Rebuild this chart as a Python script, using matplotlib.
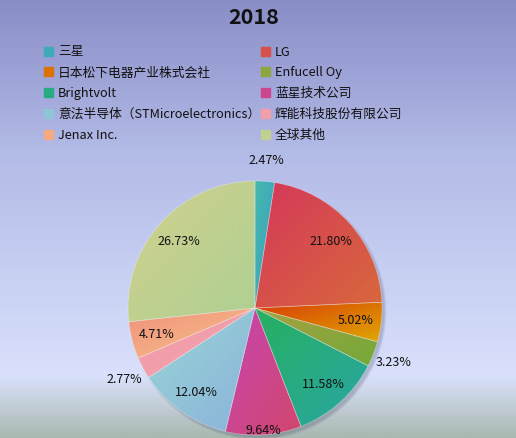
import numpy as np
import matplotlib
matplotlib.use('Agg')
import matplotlib.pyplot as plt
from matplotlib.colors import to_rgb, LinearSegmentedColormap
from matplotlib.patches import Rectangle, Circle

plt.rcParams['font.family'] = ['Noto Sans CJK SC', 'DejaVu Sans']

title = '2018'
companies = ['三星', 'LG', '日本松下电器产业株式会社', 'Enfucell Oy', 'Brightvolt',
             '蓝星技术公司', '意法半导体（STMicroelectronics）', '辉能科技股份有限公司',
             'Jenax Inc.', '全球其他']
shares = [2.47, 21.80, 5.02, 3.23, 11.58, 9.64, 12.04, 2.77, 4.71, 26.73]

# gradient colours for each slice (start -> end)
color_from = ['#46b9ae', '#d5385a', '#d83c05', '#a8a040', '#26b060',
              '#c646b2', '#98d6d4', '#f29aa6', '#f0907c', '#d2d08e']
color_to = ['#3a9cc2', '#d8683c', '#e0a800', '#72aa3a', '#2aa6a4',
            '#d2466c', '#8cb2dc', '#f2a4b0', '#f8c48a', '#aed092']

W, H = 516, 439
fig = plt.figure(figsize=(W / 100, H / 100), dpi=100)

# background with vertical gradient, legend and title (pixel coords)
bg = fig.add_axes([0, 0, 1, 1])
bg.set_xlim(0, W)
bg.set_ylim(H, 0)
bg.axis('off')
stops = [(0.0, '#898dc6'), (0.35, '#b3bbe7'), (0.86, '#d9e1fc'),
         (0.90, '#ccd6e6'), (1.0, '#a9b8b0')]
bg_cmap = LinearSegmentedColormap.from_list('bg', stops)
bg.imshow(np.linspace(0, 1, 256).reshape(-1, 1), cmap=bg_cmap,
          extent=(0, W, H, 0), aspect='auto', zorder=0)

bg.text(254, 17, title, fontsize=15.5, fontweight='bold', ha='center',
        va='center', color='#111111')

mid_colors = [tuple((np.array(to_rgb(a)) + np.array(to_rgb(b))) / 2)
              for a, b in zip(color_from, color_to)]

for i, name in enumerate(companies):
    col, row = i % 2, i // 2
    x0 = 44 if col == 0 else 261
    y0 = 52 + row * 20.8
    bg.add_patch(Rectangle((x0, y0 - 4.5), 9, 9, color=mid_colors[i], zorder=2))
    bg.text(x0 + 14, y0, name, fontsize=9.2, ha='left', va='center',
            color='#111111', zorder=3)

# pie
ax = fig.add_axes([128 / W, 3 / H, 254 / W, 254 / H])

# soft shadow, lower right
for k in range(4):
    ax.add_patch(Circle((0.022, -0.024), 0.995 + k * 0.006, color='#404060',
                        alpha=0.07, zorder=0, clip_on=False, lw=0))

wedges, texts, autotexts = ax.pie(
    shares, startangle=90, counterclock=False, autopct='%.2f%%',
    colors=mid_colors,
    wedgeprops=dict(edgecolor=(1, 1, 1, 0.35), linewidth=0.5),
    textprops=dict(fontsize=9, color='#111111'))

n = 64
u, v = np.meshgrid(np.linspace(0, 1, n), np.linspace(0, 1, n))
t = ((u + (1 - v)) / 2)[..., None]
for w, c0, c1 in zip(wedges, color_from, color_to):
    th = np.radians(np.linspace(w.theta1, w.theta2, 60))
    xs = np.concatenate([[0], np.cos(th)])
    ys = np.concatenate([[0], np.sin(th)])
    img = (1 - t) * np.array(to_rgb(c0)) + t * np.array(to_rgb(c1))
    im = ax.imshow(img, extent=(xs.min(), xs.max(), ys.min(), ys.max()),
                   origin='lower', zorder=1, interpolation='bilinear')
    im.set_clip_path(w)
    w.set_facecolor('none')
    w.set_zorder(2)

for i, (w, txt) in enumerate(zip(wedges, autotexts)):
    ang = np.radians((w.theta1 + w.theta2) / 2)
    if shares[i] < 3.5:
        r = 1.17
    elif i == 5:
        r = 0.96
    else:
        r = 0.8
    txt.set_position((r * np.cos(ang), r * np.sin(ang)))
    txt.set_zorder(5)

ax.set_xlim(-1, 1)
ax.set_ylim(-1, 1)
ax.set_aspect('equal')
ax.axis('off')

fig.savefig('out.png', dpi=100)
